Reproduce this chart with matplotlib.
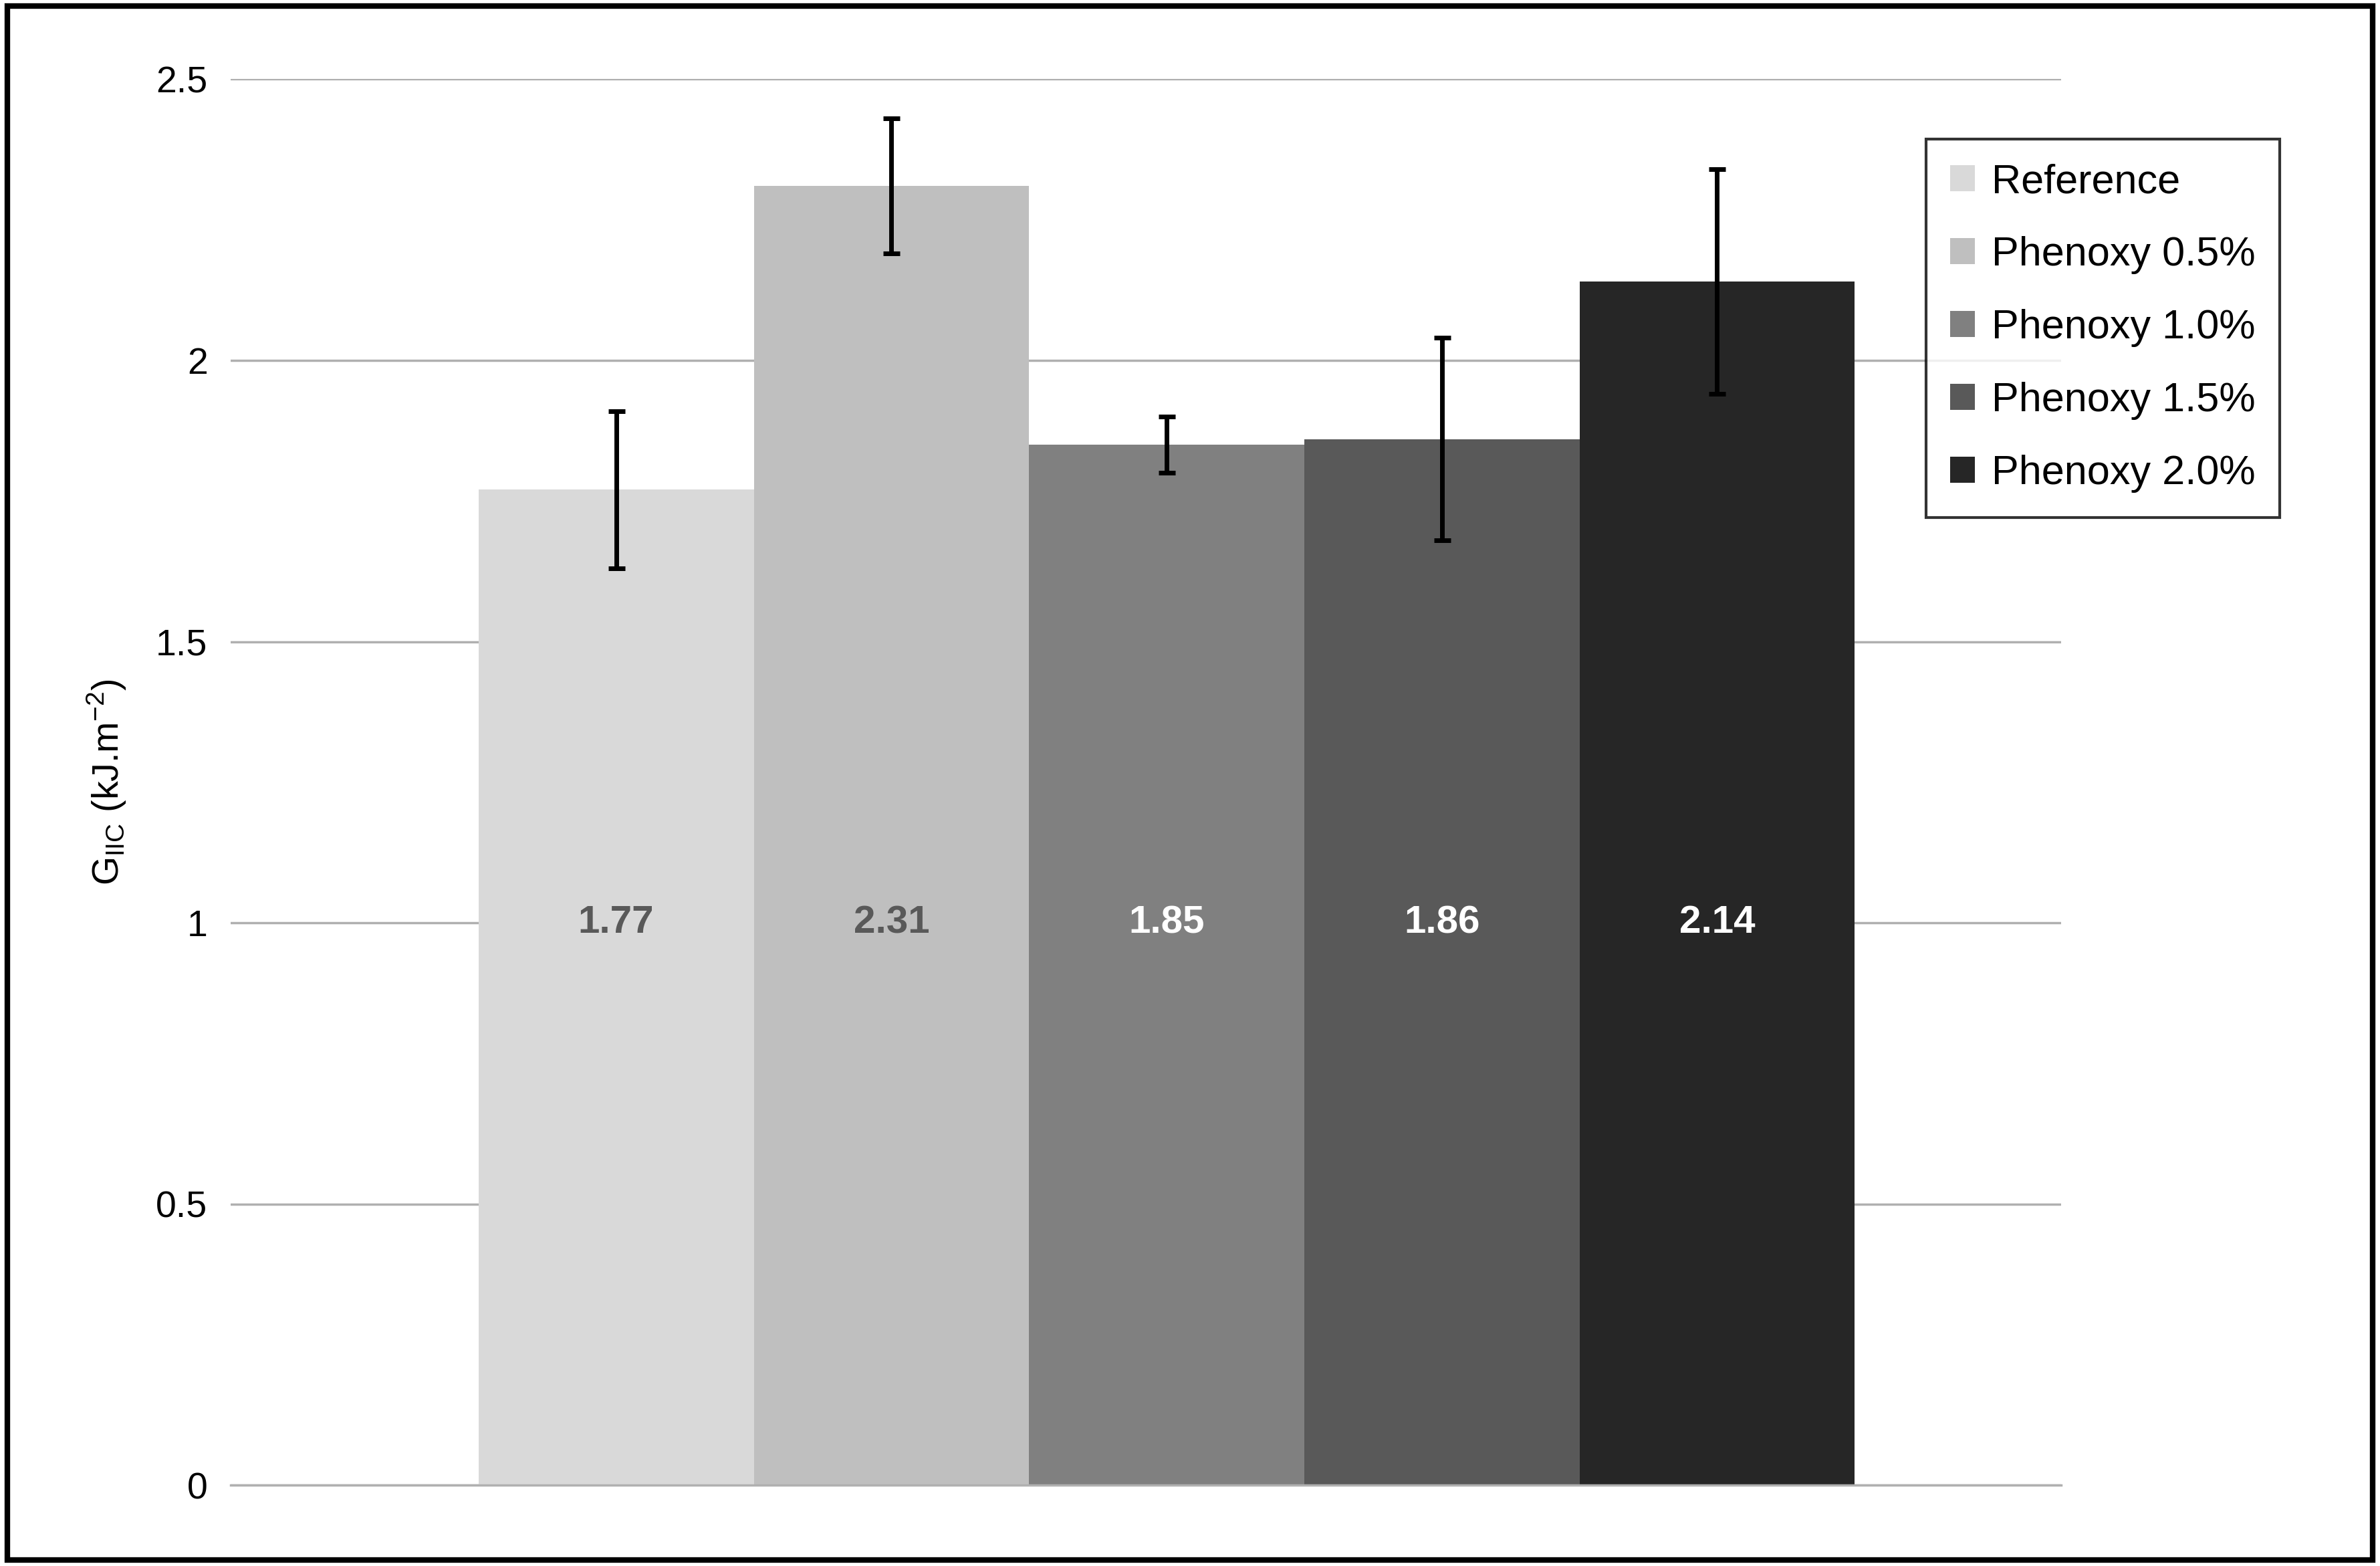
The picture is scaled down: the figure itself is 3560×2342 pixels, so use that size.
import matplotlib.pyplot as plt
from matplotlib.patches import Rectangle

plt.rcParams['font.family'] = ['Liberation Sans', 'DejaVu Sans']

labels = ['Reference', 'Phenoxy 0.5%', 'Phenoxy 1.0%', 'Phenoxy 1.5%', 'Phenoxy 2.0%']
values = [1.77, 2.31, 1.85, 1.86, 2.14]
errors = [0.14, 0.12, 0.05, 0.18, 0.20]
colors = ['#d9d9d9', '#bfbfbf', '#808080', '#595959', '#262626']
text_colors = ['#595959', '#595959', 'white', 'white', 'white']

fig = plt.figure(figsize=(35.6, 23.42), dpi=100)
ax = fig.add_axes([0.097, 0.0515, 0.769, 0.898])

for i, (lab, v, e, c) in enumerate(zip(labels, values, errors, colors)):
    ax.bar(i, v, width=1.0, color=c, label=lab, zorder=2)
    ax.errorbar(i, v, yerr=e, color='black', capsize=9, capthick=5, elinewidth=5, zorder=3)
    ax.text(i, 1.0, f'{v:.2f}', ha='center', va='center', fontsize=42,
            fontweight='bold', color=text_colors[i], zorder=4)

ax.set_xlim(-1.4, 5.25)
ax.set_ylim(0, 2.5)
ax.set_yticks([0, 0.5, 1, 1.5, 2, 2.5])
ax.set_yticklabels(['0', '0.5', '1', '1.5', '2', '2.5'])
ax.set_xticks([])
ax.yaxis.grid(True, color='#b0b0b0', linewidth=2.5, zorder=0)
for s in ['top', 'right', 'left']:
    ax.spines[s].set_visible(False)
ax.spines['bottom'].set_color('#b0b0b0')
ax.spines['bottom'].set_linewidth(2.5)
ax.tick_params(axis='y', length=0, labelsize=40, pad=25)
ax.set_ylabel(r'G$_{\mathregular{IIC}}$ (kJ.m$^{\mathregular{-2}}$)', fontsize=40, labelpad=30)

leg = ax.legend(loc='upper left', bbox_to_anchor=(0.915, 0.972), fontsize=44,
                frameon=True, fancybox=False, edgecolor='black', handlelength=0.6,
                handleheight=0.6, handletextpad=0.4, labelspacing=0.85,
                borderpad=0.6)
leg.get_frame().set_linewidth(3)

fig.patches.append(Rectangle((0.003, 0.004), 0.994, 0.992, transform=fig.transFigure,
                             fill=False, edgecolor='black', linewidth=6))

fig.savefig('out.png', dpi=100)
